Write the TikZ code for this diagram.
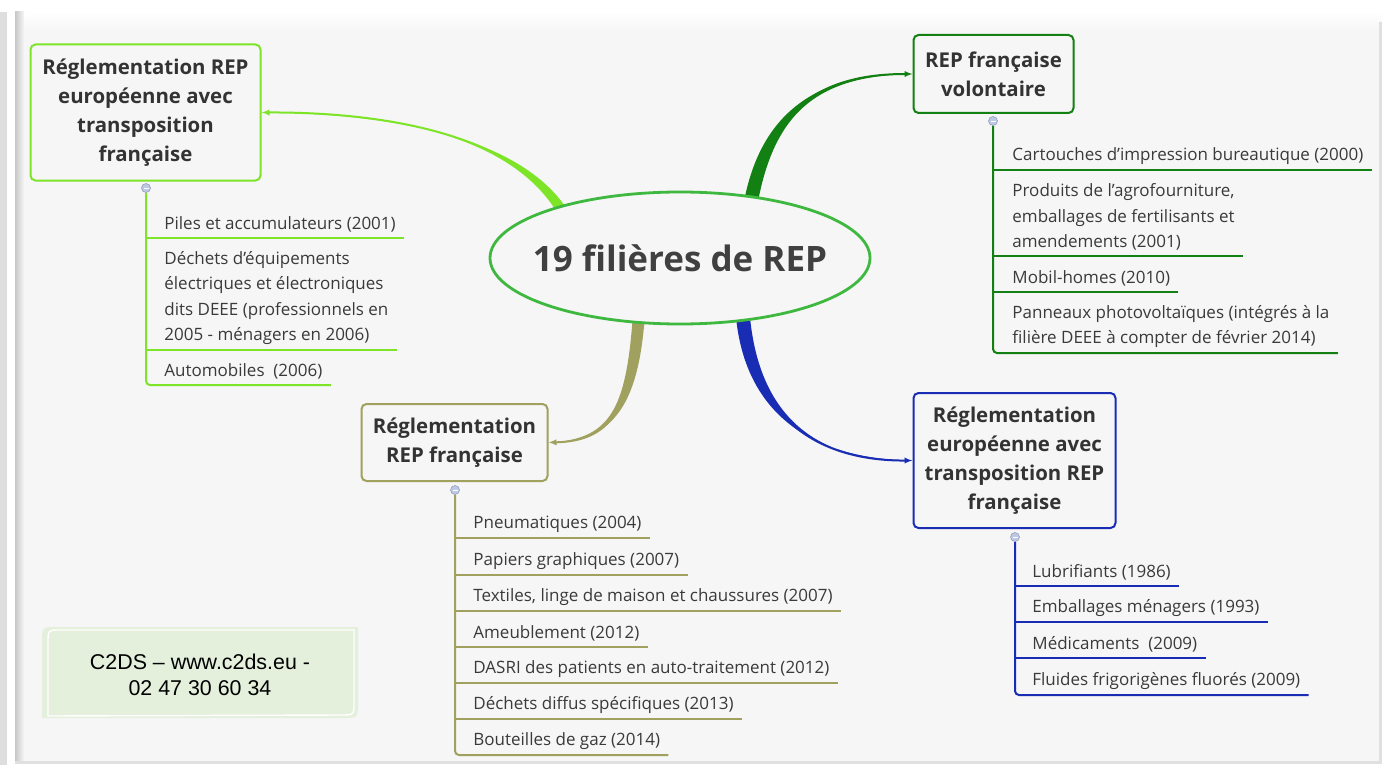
\documentclass[tikz,border=0pt]{standalone}
\usepackage{fontspec}
\setmainfont{Open Sans}
\newfontfamily\arialfont{Liberation Sans}
\usepackage{tikz}
\usetikzlibrary{positioning}
\usetikzlibrary{calc,shapes.geometric}
\usetikzlibrary{arrows.meta}
\pgfdeclarelayer{background}
\pgfsetlayers{background,main}
\definecolor{panelc}{RGB}{246,246,246}
\definecolor{limec}{RGB}{125,228,40}
\definecolor{darkgc}{RGB}{18,128,18}
\definecolor{olivec}{RGB}{160,160,95}
\definecolor{bluec}{RGB}{25,45,180}
\definecolor{rootc}{RGB}{62,184,62}
\definecolor{txtc}{RGB}{58,58,58}
\definecolor{notec}{RGB}{228,240,220}
\definecolor{togc}{RGB}{188,200,230}
\tikzstyle{root}=[ellipse,draw=rootc,line width=1.4pt,fill=panelc,minimum width=190pt,minimum height=66pt,
                  font=\bfseries\fontsize{17.5}{20}\selectfont,text=black!75]
\tikzstyle{topic}=[draw,line width=1pt,rounded corners=2.5pt,fill=panelc,align=center,inner sep=2pt,
                   font=\bfseries\fontsize{10.2}{14.5}\selectfont,text=black!80]
\tikzstyle{item}=[anchor=south west,align=left,inner xsep=0pt,inner ysep=2.5pt,
                  font=\fontsize{8.5}{12.75}\selectfont,text=txtc]
\tikzstyle{toggle}=[circle,fill=togc,draw=togc!80!black,line width=0.3pt,minimum size=4.5pt,inner sep=0pt,
                    path picture={\draw[white,line width=0.4pt] ([xshift=1pt]path picture bounding box.west) -- ([xshift=-1pt]path picture bounding box.east);}]
\tikzstyle{leaf}=[line width=1pt]
\tikzstyle{stem}=[line width=1pt,rounded corners=2pt]
\tikzstyle{link}=[-{Latex[length=4pt,width=3.2pt]},line width=1pt]
\tikzstyle{note}=[align=center,font=\arialfont\fontsize{10.7}{13}\selectfont,text=black]
\tikzset{>=latex}
\def\branch#1#2#3#4#5#6{% colour, start, control 1, control 2, end, half width
  \fill[#1] ($(#2)+(-#6,0)$) .. controls ($(#3)+(-#6,0)$) and ($(#4)+(0,-#6*0.2)$) .. (#5)
            .. controls ($(#4)+(0,#6*0.2)$) and ($(#3)+(#6,0)$) .. ($(#2)+(#6,0)$) -- cycle;
  \draw[link,#1] (#2) .. controls (#3) and (#4) .. (#5)}

\begin{document}
\begin{tikzpicture}[x=0.5pt,y=-0.5pt]
  \useasboundingbox (0,0) rectangle (1386,765);

  % PANEL
  \begin{pgfonlayer}{background}
    \fill[white] (0,0) rectangle (1386,765);
    \fill[black!13] (0,12) rectangle (7,765);
    \fill[panelc] (15,12) rectangle (1382,763);
    \shade[top color=white,bottom color=panelc] (15,12) rectangle (1382,30);
    \shade[left color=black!22,right color=panelc] (15,12) rectangle (24,763);
    \fill[black!12] (1379,22) rectangle (1382,763);
    \fill[black!12] (15,761) rectangle (1382,764);
  \end{pgfonlayer}

  % ROOT
  \node[root] (root) at (680,258) {\makebox[0pt]{19 filières de REP}};

  % TOPICS
  \node[topic,draw=limec,minimum width=115pt,minimum height=68pt] (eufr) at (145.5,112.5)
    {Réglementation REP\\européenne avec\\transposition\\française};
  \node[topic,draw=darkgc,minimum width=80pt,minimum height=39pt] (vol) at (993.5,74)
    {REP française\\volontaire};
  \node[topic,draw=olivec,minimum width=93pt,minimum height=38.5pt] (fr) at (454.5,442.5)
    {Réglementation\\REP française};
  \node[topic,draw=bluec,minimum width=101pt,minimum height=67.5pt] (eurep) at (1014.5,460.5)
    {Réglementation\\européenne avec\\transposition REP\\française};

  % TOGGLES
  \node[toggle] (togEufr) at (146,188) {};
  \node[toggle] (togVol) at (993,121) {};
  \node[toggle] (togFr) at (455,490) {};
  \node[toggle] (togEurep) at (1015,537) {};

  % ITEMS - EUROPEENNE / FRANCAISE
  \node[item] (eufr1) at (164,238) {Piles et accumulateurs (2001)};
  \node[item] (eufr2) at (164,350) {Déchets d’équipements\\électriques et électroniques\\dits DEEE (professionnels en\\2005 - ménagers en 2006)};
  \node[item] (eufr3) at (164,385) {Automobiles\ \ (2006)};
  \foreach \n in {eufr1,eufr2}
    \draw[leaf,limec] (togEufr |- \n.south) -- ($(\n.south east)+(8,0)$);
  \draw[stem,limec] (togEufr.south) |- ($(eufr3.south east)+(8,0)$);

  % ITEMS - VOLONTAIRE
  \node[item] (vol1) at (1012,170) {Cartouches d’impression bureautique (2000)};
  \node[item] (vol2) at (1012,256) {Produits de l’agrofourniture,\\emballages de fertilisants et\\amendements (2001)};
  \node[item] (vol3) at (1012,292) {Mobil-homes (2010)};
  \node[item] (vol4) at (1012,353) {Panneaux photovoltaïques (intégrés à la\\filière DEEE à compter de février 2014)};
  \foreach \n in {vol1,vol2,vol3}
    \draw[leaf,darkgc] (togVol |- \n.south) -- ($(\n.south east)+(8,0)$);
  \draw[stem,darkgc] (togVol.south) |- ($(vol4.south east)+(8,0)$);

  % ITEMS - FRANCAISE
  \node[item] (fr1) at (473,538) {Pneumatiques (2004)};
  \node[item] (fr2) at (473,575) {Papiers graphiques (2007)};
  \node[item] (fr3) at (473,611) {Textiles, linge de maison et chaussures (2007)};
  \node[item] (fr4) at (473,647) {Ameublement (2012)};
  \node[item] (fr5) at (473,683) {DASRI des patients en auto-traitement (2012)};
  \node[item] (fr6) at (473,719) {Déchets diffus spécifiques (2013)};
  \node[item] (fr7) at (473,755) {Bouteilles de gaz (2014)};
  \foreach \n in {fr1,fr2,fr3,fr4,fr5,fr6}
    \draw[leaf,olivec] (togFr |- \n.south) -- ($(\n.south east)+(8,0)$);
  \draw[stem,olivec] (togFr.south) |- ($(fr7.south east)+(8,0)$);

  % ITEMS - EUROPEENNE / REP FRANCAISE
  \node[item] (eurep1) at (1032,586) {Lubrifiants (1986)};
  \node[item] (eurep2) at (1032,622) {Emballages ménagers (1993)};
  \node[item] (eurep3) at (1032,658) {Médicaments\ \ (2009)};
  \node[item] (eurep4) at (1032,695) {Fluides frigorigènes fluorés (2009)};
  \foreach \n in {eurep1,eurep2,eurep3}
    \draw[leaf,bluec] (togEurep |- \n.south) -- ($(\n.south east)+(8,0)$);
  \draw[stem,bluec] (togEurep.south) |- ($(eurep4.south east)+(8,0)$);

  % NOTE
  \fill[notec] (42,718) -- (42,642) .. controls (42,627) .. (57,627) -- (358,627)
               -- (358,702) .. controls (358,718) .. (343,718) -- cycle;
  \draw[white,line width=0.7pt] (48,716) -- (48,643) .. controls (48,630) .. (61,630) -- (354,630)
               -- (354,702) .. controls (354,715) .. (341,715) -- cycle;
  \node[note] (c2ds) at (200,675) {C2DS – www.c2ds.eu -\\02 47 30 60 34};

  % BRANCHES
  \begin{pgfonlayer}{background}
    \coordinate (sEufr) at ($(root.center)!0.9!(root.159)$);
    \coordinate (sVol) at ($(root.center)!0.9!(root.38)$);
    \coordinate (sFr) at ($(root.center)!0.9!(root.235)$);
    \coordinate (sEurep) at ($(root.center)!0.9!(root.318)$);
    \branch{limec}{sEufr}{520,140}{400,112}{eufr.east}{6};
    \branch{darkgc}{sVol}{768,110}{820,74}{vol.west}{7};
    \branch{olivec}{sFr}{632,410}{610,441}{fr.east}{6};
    \branch{bluec}{sEurep}{752,420}{820,461}{eurep.west}{7};
  \end{pgfonlayer}
\end{tikzpicture}
\end{document}
